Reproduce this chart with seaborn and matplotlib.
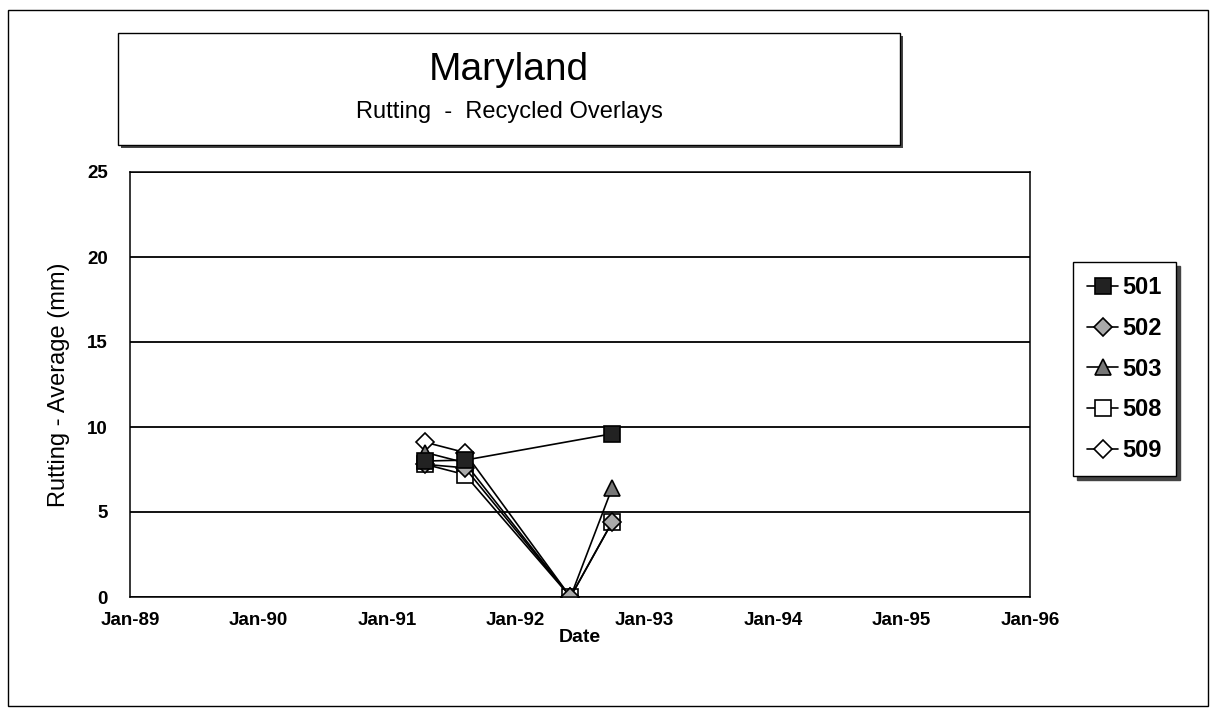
import pandas as pd
import numpy as np
import matplotlib
matplotlib.use("Agg")
import matplotlib.pyplot as plt
import matplotlib.dates as mdates
from matplotlib.patches import Rectangle
import seaborn as sns

# Survey dates and average rutting (mm) per section
dates = ["1991-04-20", "1991-08-10", "1992-06-05", "1992-10-01"]
rut_501 = [8.0, 8.05, np.nan, 9.6]
rut_502 = [7.8, 7.6, 0.0, 4.4]
rut_503 = [8.5, 7.9, 0.0, 6.4]
rut_508 = [7.8, 7.2, 0.0, 4.4]
rut_509 = [9.1, 8.5, 0.0, np.nan]
sections = ["501", "502", "503", "508", "509"]
y_ticks = [0, 5, 10, 15, 20, 25]
x_ticks = ["1989-01-01", "1990-01-01", "1991-01-01", "1992-01-01",
           "1993-01-01", "1994-01-01", "1995-01-01", "1996-01-01"]

df = pd.DataFrame({"Date": pd.to_datetime(dates),
                   "501": rut_501, "502": rut_502, "503": rut_503,
                   "508": rut_508, "509": rut_509})
long = df.melt(id_vars="Date", var_name="Section", value_name="Rutting").dropna()

sns.set_style("white")
plt.rcParams["font.family"] = ["Liberation Sans", "DejaVu Sans"]
plt.rcParams["text.color"] = "black"
plt.rcParams["axes.labelcolor"] = "black"

fig = plt.figure(figsize=(12.16, 7.13), dpi=100)
W, H = 1216, 713

def fx(px):
    return px / W

def fy(py):
    return 1 - py / H

# outer border
fig.patches.append(Rectangle((fx(8), fy(706)), fx(1200), (706 - 10) / H, transform=fig.transFigure,
                             fill=False, edgecolor="black", linewidth=1.0))
# title box with shadow
fig.patches.append(Rectangle((fx(121), fy(148)), fx(782), (148 - 36) / H, transform=fig.transFigure,
                             facecolor="#444444", edgecolor="none"))
fig.patches.append(Rectangle((fx(118), fy(145)), fx(782), (145 - 33) / H, transform=fig.transFigure,
                             facecolor="white", edgecolor="black", linewidth=1.0))
fig.text(fx(509), fy(70), "Maryland", ha="center", va="center", fontsize=28)
fig.text(fx(509), fy(112), "Rutting  -  Recycled Overlays", ha="center", va="center", fontsize=17)

ax = fig.add_axes([fx(130), fy(597), fx(900), (597 - 172) / H])

styles = {
    "501": dict(marker="s", markerfacecolor="#222222", markeredgecolor="black", markersize=11),
    "502": dict(marker="D", markerfacecolor="#aaaaaa", markeredgecolor="black", markersize=9),
    "503": dict(marker="^", markerfacecolor="#777777", markeredgecolor="black", markersize=11),
    "508": dict(marker="s", markerfacecolor="white", markeredgecolor="black", markersize=11),
    "509": dict(marker="D", markerfacecolor="white", markeredgecolor="black", markersize=9),
}

for sec in ["509", "508", "503", "502", "501"]:
    sub = long[long["Section"] == sec]
    sns.lineplot(data=sub, x="Date", y="Rutting", ax=ax, color="black", linewidth=1.2,
                 label=sec, markeredgewidth=1.2, **styles[sec])

ax.set_xlim(pd.Timestamp(x_ticks[0]), pd.Timestamp(x_ticks[-1]))
ax.set_ylim(y_ticks[0], y_ticks[-1])
ax.set_yticks(y_ticks)
ax.set_xticks(pd.to_datetime(x_ticks))
ax.xaxis.set_major_formatter(mdates.DateFormatter("%b-%y"))
ax.yaxis.grid(True, color="black", linewidth=1.3)
ax.xaxis.grid(False)
for s in ax.spines.values():
    s.set_color("black")
    s.set_linewidth(1.1)
ax.tick_params(axis="x", direction="in", length=6, width=1, labelsize=13.5, pad=11, colors="black")
ax.tick_params(axis="y", length=0, labelsize=13.5, pad=16, colors="black")
for lab in ax.get_xticklabels() + ax.get_yticklabels():
    lab.set_fontweight("bold")
ax.set_xlabel("Date", fontsize=14, fontweight="bold", labelpad=0)
ax.set_ylabel("Rutting - Average (mm)", fontsize=17, labelpad=12)

handles, labels = ax.get_legend_handles_labels()
order = [labels.index(s) for s in sections]
leg = ax.legend([handles[i] for i in order], [labels[i] for i in order],
                loc="upper left", bbox_to_anchor=(fx(1073), fy(262)), bbox_transform=fig.transFigure,
                frameon=True, fancybox=False, edgecolor="black", fontsize=17,
                handlelength=1.3, handletextpad=0.2, labelspacing=0.75, borderpad=0.6,
                borderaxespad=0, shadow={"color": "#444444", "alpha": 1.0, "ox": 3, "oy": -3})
for t in leg.get_texts():
    t.set_fontweight("bold")
leg.get_frame().set_linewidth(1.0)

fig.savefig("out.png", dpi=100)
